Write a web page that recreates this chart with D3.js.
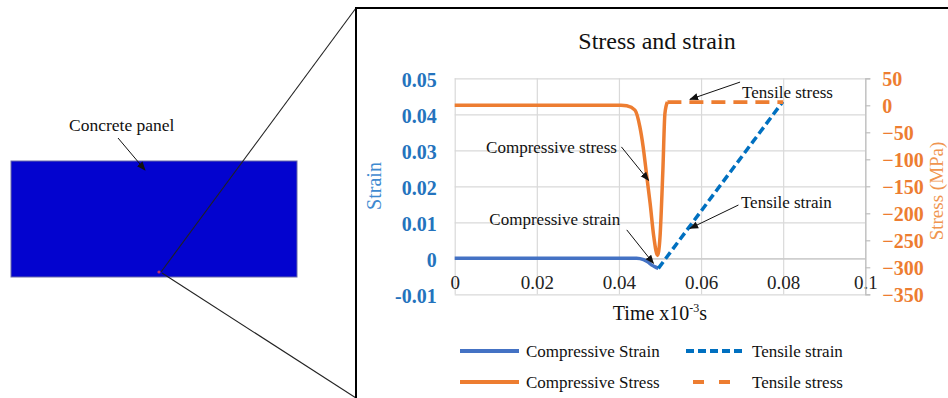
<!DOCTYPE html>
<html>
<head>
<meta charset="utf-8">
<script src="https://cdn.jsdelivr.net/npm/d3@7"></script>
<style>
  body { margin: 0; background: #fff; }
  svg, svg text { font-family: "Liberation Serif", "Times New Roman", serif; }
</style>
</head>
<body>
<div id="chart"></div>
<script>
// time in x10^-3 s, strain (-), stress (MPa)
const compStrainT = [0, 0.020, 0.040, 0.0443, 0.046, 0.047, 0.048, 0.0488, 0.0496];
const compStrainV = [0, 0, 0, 0, -0.0004, -0.0010, -0.0019, -0.0024, -0.0028];
const tensStrainT = [0.0496, 0.0799];
const tensStrainV = [-0.0028, 0.0435];
const compStressT = [0, 0.020, 0.0405, 0.0419, 0.0439, 0.0451, 0.0459, 0.0468, 0.0476, 0.0485, 0.0494, 0.0500, 0.0507, 0.0512, 0.0518];
const compStressV = [0, 0, 0, -1, -9, -40, -77, -133, -182, -244, -278, -244, -120, -15, 6];
const tensStressT = [0.0518, 0.0800];
const tensStressV = [6, 6];

const timeTicks = [0, 0.02, 0.04, 0.06, 0.08, 0.1];
const timeTickLabels = ["0", "0.02", "0.04", "0.06", "0.08", "0.1"];
const strainTicks = [-0.01, 0, 0.01, 0.02, 0.03, 0.04, 0.05];
const strainTickLabels = ["-0.01", "0", "0.01", "0.02", "0.03", "0.04", "0.05"];
const stressTicks = [-350, -300, -250, -200, -150, -100, -50, 0, 50];

const legendNames = ["Compressive Strain", "Tensile strain", "Compressive Stress", "Tensile stress"];

// annotations: text anchor point and arrow tail/head, in data units
const notes = [
  {text: "Tensile stress", axis: "R", tx: 0.0700, ty: 25, anchor: "start", x1: 0.0695, y1: 43, x2: 0.0573, y2: 11},
  {text: "Compressive stress", axis: "R", tx: 0.0395, ty: -78, anchor: "end", x1: 0.0406, y1: -77, x2: 0.0472, y2: -139},
  {text: "Tensile strain", axis: "L", tx: 0.0697, ty: 0.0157, anchor: "start", x1: 0.0691, y1: 0.0148, x2: 0.0573, y2: 0.0083},
  {text: "Compressive strain", axis: "L", tx: 0.0403, ty: 0.0109, anchor: "end", x1: 0.0419, y1: 0.0079, x2: 0.0484, y2: -0.0014}
];

const blueSolid = "#4472c4", blueDash = "#0070c0", orange = "#ed7d31";
const serif = "'Liberation Serif', 'Times New Roman', serif";

const W = 948, H = 398;
const svg = d3.select("#chart").append("svg").attr("width", W).attr("height", H);

svg.append("defs").append("marker")
  .attr("id", "arrow").attr("viewBox", "0 0 10 10")
  .attr("refX", 9).attr("refY", 5)
  .attr("markerWidth", 9).attr("markerHeight", 9)
  .attr("markerUnits", "userSpaceOnUse")
  .attr("orient", "auto")
  .append("path").attr("d", "M0,1 L10,5 L0,9 Z").attr("fill", "#111");

// left picture: panel and zoom lines
svg.append("rect").attr("x", 11).attr("y", 161).attr("width", 286).attr("height", 116)
  .attr("fill", "#0303cf").attr("stroke", "#6a6aa8").attr("stroke-width", 1);
svg.append("circle").attr("cx", 159).attr("cy", 272).attr("r", 1.6).attr("fill", "#c0306a");
svg.append("line").attr("x1", 161).attr("y1", 272).attr("x2", 356).attr("y2", 8)
  .attr("stroke", "#222").attr("stroke-width", 1.1);
svg.append("line").attr("x1", 162).attr("y1", 273).attr("x2", 356).attr("y2", 398)
  .attr("stroke", "#222").attr("stroke-width", 1.1);
svg.append("text").attr("x", 69).attr("y", 131).attr("font-size", 17.5).attr("fill", "#111")
  .text("Concrete panel");
svg.append("line").attr("x1", 118).attr("y1", 138).attr("x2", 145).attr("y2", 170)
  .attr("stroke", "#111").attr("stroke-width", 1).attr("marker-end", "url(#arrow)");

// chart frame
svg.append("rect").attr("x", 356).attr("y", 8).attr("width", 620).attr("height", 420)
  .attr("fill", "#fff").attr("stroke", "#000").attr("stroke-width", 2);

const margin = {left: 454.7, top: 78.3};
const width = 410.6, height = 216;
const g = svg.append("g").attr("transform", `translate(${margin.left},${margin.top})`);

const x = d3.scaleLinear().domain([0, 0.1]).range([0, width]);
const yL = d3.scaleLinear().domain([-0.01, 0.05]).range([height, 0]);
const yR = d3.scaleLinear().domain([-350, 50]).range([height, 0]);

// grid
g.append("g").attr("class", "grid")
  .call(d3.axisLeft(yL).tickValues(strainTicks).tickSize(-width).tickFormat(""))
  .call(s => s.select(".domain").remove())
  .call(s => s.selectAll("line").attr("stroke", "#d9d9d9").attr("stroke-width", 1.2));
g.append("g").attr("class", "grid").attr("transform", `translate(0,${height})`)
  .call(d3.axisBottom(x).tickValues(timeTicks).tickSize(-height).tickFormat(""))
  .call(s => s.select(".domain").remove())
  .call(s => s.selectAll("line").attr("stroke", "#d9d9d9").attr("stroke-width", 1.2));

// horizontal axis at strain 0
g.append("g").attr("transform", `translate(0,${yL(0)})`)
  .call(d3.axisBottom(x).tickValues(timeTicks).tickSize(0).tickPadding(17)
    .tickFormat((d, i) => timeTickLabels[i]))
  .attr("font-family", null)
  .call(s => s.select(".domain").attr("stroke", "#c8c8c8").attr("stroke-width", 1.2))
  .call(s => s.selectAll("text").style("font-family", serif)
    .style("font-size", "19px").attr("fill", "#222"));

// left axis
g.append("g")
  .call(d3.axisLeft(yL).tickValues(strainTicks).tickSize(0).tickPadding(18)
    .tickFormat((d, i) => strainTickLabels[i]))
  .attr("font-family", null)
  .call(s => s.select(".domain").remove())
  .call(s => s.selectAll("text").style("font-family", serif)
    .style("font-size", "20px").style("font-weight", "bold").attr("fill", "#2473bd").attr("dy", "0.4em"));

// right axis
g.append("g").attr("transform", `translate(${width},0)`)
  .call(d3.axisRight(yR).tickValues(stressTicks).tickSize(5).tickPadding(12))
  .attr("font-family", null)
  .call(s => s.select(".domain").attr("stroke", "#bfbfbf").attr("stroke-width", 1.2))
  .call(s => s.selectAll("line").attr("stroke", "#bfbfbf").attr("stroke-width", 1.2))
  .call(s => s.selectAll("text").style("font-family", serif)
    .style("font-size", "20px").style("font-weight", "bold").attr("fill", orange).attr("dy", "0.36em"));

// series
const zip = (ts, vs) => ts.map((t, i) => [t, vs[i]]);
const lineL = d3.line().x(d => x(d[0])).y(d => yL(d[1])).curve(d3.curveMonotoneX);
const lineR = d3.line().x(d => x(d[0])).y(d => yR(d[1])).curve(d3.curveMonotoneX);

g.append("path").datum(zip(compStrainT, compStrainV)).attr("d", lineL)
  .attr("fill", "none").attr("stroke", blueSolid).attr("stroke-width", 3.5);
g.append("path").datum(zip(tensStrainT, tensStrainV)).attr("d", lineL)
  .attr("fill", "none").attr("stroke", blueDash).attr("stroke-width", 3.5)
  .attr("stroke-dasharray", "8,4");
g.append("path").datum(zip(compStressT, compStressV)).attr("d", lineR)
  .attr("fill", "none").attr("stroke", orange).attr("stroke-width", 3.5)
  .attr("stroke-linejoin", "round");
g.append("path").datum(zip(tensStressT, tensStressV)).attr("d", lineR)
  .attr("fill", "none").attr("stroke", orange).attr("stroke-width", 3.8)
  .attr("stroke-dasharray", "14,8");

// annotations
notes.forEach(n => {
  const y = n.axis === "L" ? yL : yR;
  g.append("line")
    .attr("x1", x(n.x1)).attr("y1", y(n.y1)).attr("x2", x(n.x2)).attr("y2", y(n.y2))
    .attr("stroke", "#111").attr("stroke-width", 1).attr("marker-end", "url(#arrow)");
  g.append("text").attr("x", x(n.tx)).attr("y", y(n.ty)).attr("dy", "0.35em")
    .attr("text-anchor", n.anchor).attr("font-size", 17).attr("fill", "#111")
    .text(n.text);
});

// titles
svg.append("text").attr("x", 657).attr("y", 49).attr("text-anchor", "middle")
  .attr("font-size", 24).attr("fill", "#111").text("Stress and strain");

const xt = svg.append("text").attr("x", 660).attr("y", 320).attr("text-anchor", "middle")
  .attr("font-size", 20).attr("fill", "#111");
xt.append("tspan").text("Time x10");
xt.append("tspan").attr("font-size", 12).attr("dy", -8).text("-3");
xt.append("tspan").attr("dy", 8).text("s");

svg.append("text").attr("transform", "translate(381,186) rotate(-90)")
  .attr("text-anchor", "middle").attr("font-size", 20).attr("fill", "#3f8ad0").text("Strain");
svg.append("text").attr("transform", "translate(943,191) rotate(-90)")
  .attr("text-anchor", "middle").attr("font-size", 19).attr("fill", "#f0954f").text("Stress (MPa)");

// legend
const legendStyles = [
  {color: blueSolid, dash: null, x0: 0, x1: 59},
  {color: blueDash, dash: "8,4", x0: 0, x1: 59},
  {color: orange, dash: null, x0: 0, x1: 59},
  {color: orange, dash: "11,15", x0: 7, x1: 47}
];
const legX = [460, 686], legY = [351, 382];
const leg = svg.append("g");
legendNames.forEach((name, i) => {
  const lx = legX[i % 2], ly = legY[Math.floor(i / 2)], st = legendStyles[i];
  leg.append("line").attr("x1", lx + st.x0).attr("x2", lx + st.x1).attr("y1", ly).attr("y2", ly)
    .attr("stroke", st.color).attr("stroke-width", 3.8)
    .attr("stroke-dasharray", st.dash);
  leg.append("text").attr("x", lx + 66).attr("y", ly).attr("dy", "0.35em")
    .attr("font-size", 17).attr("fill", "#111").text(name);
});
</script>
</body>
</html>
